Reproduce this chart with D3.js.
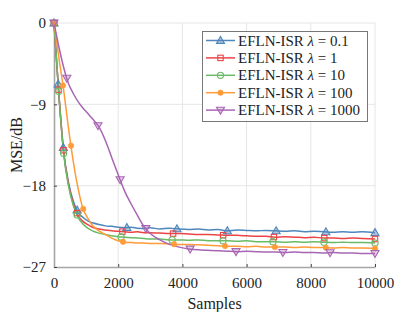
<!DOCTYPE html>
<html>
<head>
<meta charset="utf-8">
<script src="https://cdn.jsdelivr.net/npm/d3@7"></script>
<style>
  body { margin: 0; background: #fff; }
</style>
</head>
<body>
<div id="chart"></div>
<script>
const samples = [0, 150, 300, 450, 600, 750, 900, 1050, 1200, 1400, 1600, 1800, 2000, 2200, 2400, 2600, 2800, 3000, 3300, 3600, 3900, 4200, 4500, 4800, 5100, 5400, 5700, 6000, 6300, 6600, 6900, 7200, 7500, 7800, 8100, 8400, 8700, 9000, 9300, 9600, 10000];

const mseLambda01 = [0, -7.8, -14.2, -17.6, -19.7, -20.95, -21.5, -21.9, -22.1, -22.3, -22.45, -22.5, -22.6, -22.65, -22.6, -22.7, -22.75, -22.65, -22.8, -22.7, -22.8, -22.85, -22.8, -22.9, -22.85, -23.0, -22.9, -22.95, -23.0, -22.95, -23.0, -23.05, -23.0, -23.1, -23.05, -23.1, -23.15, -23.1, -23.15, -23.1, -23.2];
const mseLambda1 = [0, -7.9, -14.3, -17.8, -20.0, -21.3, -21.95, -22.3, -22.6, -22.8, -22.9, -23.0, -23.05, -23.1, -23.15, -23.1, -23.2, -23.2, -23.25, -23.3, -23.3, -23.35, -23.4, -23.4, -23.45, -23.5, -23.5, -23.55, -23.6, -23.6, -23.7, -23.65, -23.7, -23.75, -23.7, -23.8, -23.8, -23.85, -23.8, -23.85, -23.9];
const mseLambda10 = [0, -7.8, -14.4, -18.0, -20.2, -21.5, -22.25, -22.7, -23.0, -23.25, -23.4, -23.55, -23.65, -23.7, -23.75, -23.8, -23.85, -23.9, -23.9, -24.0, -24.0, -24.05, -24.0, -24.1, -24.1, -24.1, -24.15, -24.1, -24.2, -24.2, -24.2, -24.25, -24.2, -24.25, -24.2, -24.25, -24.3, -24.25, -24.3, -24.3, -24.35];
const mseLambda100 = [0, -3.8, -7.4, -11.6, -15.3, -18.3, -20.5, -21.6, -22.4, -23.0, -23.4, -23.8, -24.1, -24.25, -24.3, -24.35, -24.35, -24.4, -24.4, -24.45, -24.5, -24.5, -24.55, -24.6, -24.65, -24.7, -24.7, -24.75, -24.7, -24.8, -24.8, -24.8, -24.85, -24.8, -24.85, -24.85, -24.9, -24.85, -24.9, -24.9, -24.95];
const mseLambda1000 = [0, -2.6, -4.9, -6.7, -7.8, -8.7, -9.4, -10.0, -10.6, -11.5, -13.0, -14.9, -16.8, -18.6, -20.0, -21.3, -22.5, -23.3, -24.0, -24.5, -24.8, -25.0, -25.1, -25.15, -25.2, -25.25, -25.3, -25.25, -25.3, -25.35, -25.35, -25.4, -25.35, -25.4, -25.4, -25.45, -25.4, -25.45, -25.45, -25.5, -25.5];

const markersLambda01 = [0, 130, 290, 720, 2270, 3830, 5400, 6920, 8470, 10000];
const markersLambda1 = [0, 140, 295, 720, 2130, 3710, 5270, 6850, 8420, 10000];
const markersLambda10 = [0, 145, 300, 720, 2090, 3680, 5265, 6820, 8410, 10000];
const markersLambda100 = [0, 280, 530, 910, 2150, 3740, 5330, 6880, 8470, 10000];
const markersLambda1000 = [0, 400, 1370, 2060, 2860, 4240, 5670, 7130, 8600, 10000];

const legendLabels = ['0.1', '1', '10', '100', '1000'];
const xTicks = [0, 2000, 4000, 6000, 8000, 10000];
const yTicks = [0, -9, -18, -27];

const series = [
  { values: mseLambda01, marks: markersLambda01, color: '#4f86bb', shape: 'up' },
  { values: mseLambda1, marks: markersLambda1, color: '#ec4446', shape: 'square' },
  { values: mseLambda10, marks: markersLambda10, color: '#69bb66', shape: 'circle' },
  { values: mseLambda100, marks: markersLambda100, color: '#ff9b38', shape: 'dot' },
  { values: mseLambda1000, marks: markersLambda1000, color: '#a865b4', shape: 'down' }
];

const serif = '"Liberation Serif", "Times New Roman", Times, serif';
const width = 415, height = 312;
const margin = { top: 23, right: 40, bottom: 45, left: 54 };

const svg = d3.select('#chart').append('svg')
  .attr('width', width)
  .attr('height', height)
  .attr('font-family', serif);

const x = d3.scaleLinear().domain([0, 10000]).range([margin.left, width - margin.right]);
const y = d3.scaleLinear().domain([-27, 0]).range([height - margin.bottom, margin.top]);

// grid
svg.append('g').selectAll('line')
  .data(xTicks.slice(1))
  .enter().append('line')
  .attr('x1', d => x(d)).attr('x2', d => x(d))
  .attr('y1', y(-27)).attr('y2', y(0))
  .attr('stroke', '#e6e6e6').attr('stroke-width', 1);

svg.append('g').selectAll('line')
  .data(yTicks.slice(0, -1))
  .enter().append('line')
  .attr('x1', x(0)).attr('x2', x(10000))
  .attr('y1', d => y(d)).attr('y2', d => y(d))
  .attr('stroke', '#e6e6e6').attr('stroke-width', 1);

// axes
const xAxis = svg.append('g')
  .attr('transform', `translate(0,${y(-27)})`)
  .call(d3.axisBottom(x).tickValues(xTicks).tickSizeInner(-3).tickSizeOuter(0).tickPadding(10).tickFormat(d3.format('d')));
const yAxis = svg.append('g')
  .attr('transform', `translate(${x(0)},0)`)
  .call(d3.axisLeft(y).tickValues(yTicks).tickSizeInner(-3).tickSizeOuter(0).tickPadding(8).tickFormat(d3.format('d')));

[xAxis, yAxis].forEach(a => {
  a.attr('font-family', serif).attr('font-size', 15);
  a.select('.domain').attr('stroke', '#a6a6a6').attr('stroke-width', 1.6);
  a.selectAll('.tick line').attr('stroke', '#444');
  a.selectAll('.tick text').attr('fill', '#222');
});

svg.append('text')
  .attr('x', x(5000)).attr('y', 309)
  .attr('text-anchor', 'middle')
  .attr('font-size', 16).attr('fill', '#222')
  .text('Samples');

svg.append('text')
  .attr('transform', `translate(22,${y(-13.5)}) rotate(-90)`)
  .attr('text-anchor', 'middle')
  .attr('font-size', 16).attr('fill', '#222')
  .text('MSE/dB');

const line = d3.line()
  .x((d, i) => x(samples[i]))
  .y(d => y(d))
  .curve(d3.curveMonotoneX);

const valueAt = (vals, s) => {
  if (s <= samples[0]) return vals[0];
  const i = Math.max(1, d3.bisectLeft(samples, s));
  const t = (s - samples[i - 1]) / (samples[i] - samples[i - 1]);
  return vals[i - 1] + t * (vals[i] - vals[i - 1]);
};

function drawMarker(g, shape, color, cx, cy) {
  if (shape === 'up') {
    g.append('path').attr('d', d3.symbol(d3.symbolTriangle, 28)())
      .attr('transform', `translate(${cx},${cy + 0.6})`)
      .attr('fill', color).attr('fill-opacity', 0.45).attr('stroke', color).attr('stroke-width', 1.1);
  } else if (shape === 'down') {
    g.append('path').attr('d', d3.symbol(d3.symbolTriangle, 28)())
      .attr('transform', `translate(${cx},${cy - 0.6}) rotate(180)`)
      .attr('fill', color).attr('fill-opacity', 0.3).attr('stroke', color).attr('stroke-width', 1.1);
  } else if (shape === 'square') {
    g.append('rect').attr('x', cx - 2.7).attr('y', cy - 2.7).attr('width', 5.4).attr('height', 5.4)
      .attr('fill', 'none').attr('stroke', color).attr('stroke-width', 1.1);
  } else if (shape === 'circle') {
    g.append('circle').attr('cx', cx).attr('cy', cy).attr('r', 3.1)
      .attr('fill', 'none').attr('stroke', color).attr('stroke-width', 1.1);
  } else {
    g.append('circle').attr('cx', cx).attr('cy', cy).attr('r', 2.7)
      .attr('fill', color).attr('stroke', color).attr('stroke-width', 0.6);
  }
}

const plot = svg.append('g');
series.forEach(s => {
  plot.append('path')
    .datum(s.values)
    .attr('d', line)
    .attr('fill', 'none')
    .attr('stroke', s.color)
    .attr('stroke-width', 1.5)
    .attr('stroke-linejoin', 'round');
});
series.forEach(s => {
  const g = plot.append('g');
  s.marks.forEach(m => drawMarker(g, s.shape, s.color, x(m), y(valueAt(s.values, m))));
});

// legend
const legend = svg.append('g');
legend.append('rect')
  .attr('x', 202.5).attr('y', 31.5).attr('width', 165).attr('height', 90)
  .attr('fill', '#fff').attr('stroke', '#777').attr('stroke-width', 1);

series.forEach((s, i) => {
  const ly = 40.5 + i * 17.4;
  legend.append('line')
    .attr('x1', 206).attr('x2', 235).attr('y1', ly).attr('y2', ly)
    .attr('stroke', s.color).attr('stroke-width', 1.5);
  drawMarker(legend, s.shape, s.color, 220.5, ly);
  const t = legend.append('text')
    .attr('x', 238).attr('y', ly + 5)
    .attr('font-size', 15).attr('fill', '#222');
  t.append('tspan').text('EFLN-ISR ');
  t.append('tspan').attr('font-style', 'italic').text('λ');
  t.append('tspan').text(' = ' + legendLabels[i]);
});
</script>
</body>
</html>
